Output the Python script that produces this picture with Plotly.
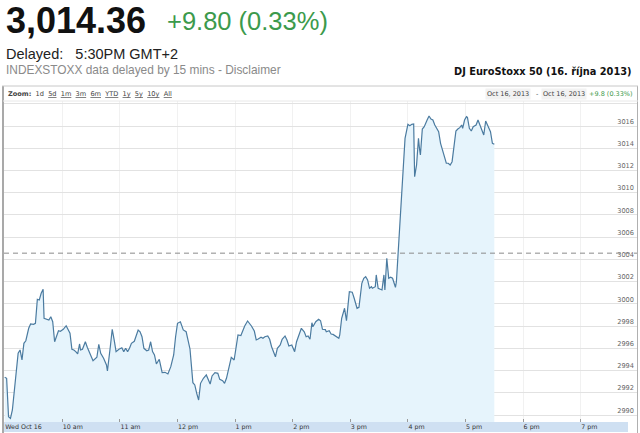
import plotly.graph_objects as go
import pandas as pd

DAY = "2013-10-16 "

times = [
    "09:00", "09:02", "09:04", "09:06", "09:08", "09:11", "09:14", "09:16", "09:18", "09:20",
    "09:22", "09:25", "09:27", "09:30", "09:32", "09:34", "09:36", "09:38", "09:40", "09:41",
    "09:44", "09:46", "09:48", "09:50", "09:52", "09:53", "09:56", "09:58",
    "10:01", "10:04", "10:06", "10:08", "10:10", "10:12", "10:14", "10:16", "10:18", "10:19",
    "10:21", "10:24", "10:26", "10:29", "10:32", "10:36", "10:38", "10:40", "10:43", "10:46",
    "10:47", "10:50", "10:52", "10:54", "10:56", "10:59",
    "11:02", "11:04", "11:06", "11:08", "11:10", "11:12", "11:15", "11:19", "11:21", "11:23",
    "11:25", "11:28", "11:30", "11:32", "11:34", "11:36", "11:38", "11:41", "11:44", "11:47",
    "11:50", "11:53", "11:56", "11:58",
    "12:00", "12:03", "12:06", "12:09", "12:13", "12:16", "12:18", "12:20", "12:22", "12:24",
    "12:27", "12:30", "12:32", "12:34", "12:36", "12:39", "12:42", "12:44", "12:47", "12:49",
    "12:51", "12:54", "12:56", "12:59",
    "13:03", "13:06", "13:10", "13:13", "13:17", "13:20", "13:22", "13:24", "13:27", "13:29",
    "13:31", "13:34", "13:36", "13:38", "13:42", "13:44", "13:47", "13:49", "13:52", "13:54",
    "13:56", "13:59",
    "14:02", "14:04", "14:07", "14:09", "14:12", "14:14", "14:16", "14:18", "14:20", "14:21",
    "14:24", "14:27", "14:29", "14:31", "14:34", "14:35", "14:38", "14:40", "14:42", "14:45",
    "14:48", "14:49", "14:51", "14:54", "14:56", "14:59",
    "15:02", "15:04", "15:07", "15:09", "15:12", "15:14", "15:16", "15:18", "15:20", "15:22",
    "15:23", "15:26", "15:27", "15:29", "15:31", "15:33", "15:35", "15:36", "15:38", "15:40",
    "15:42", "15:44", "15:47", "15:48", "15:57", "15:59",
    "16:00", "16:02", "16:04", "16:06", "16:07", "16:09", "16:11", "16:12", "16:13", "16:15",
    "16:17", "16:20", "16:22", "16:24", "16:26", "16:28", "16:30", "16:32", "16:34", "16:36",
    "16:38", "16:40", "16:42", "16:44", "16:46", "16:47", "16:50", "16:52", "16:54", "16:56",
    "16:57", "16:59",
    "17:01", "17:02", "17:04", "17:06", "17:08", "17:11", "17:13", "17:15", "17:17", "17:19",
    "17:21", "17:24", "17:26", "17:28", "17:30",
]

prices = [
    2993.39, 2993.30, 2989.85, 2989.70, 2990.45, 2992.85, 2995.55, 2995.85, 2994.95, 2996.45,
    2996.68, 2997.80, 2998.19, 2998.16, 2998.25, 3000.41, 3000.35, 3000.95, 3001.31, 2998.70,
    2998.61, 2998.55, 2998.84, 2998.39, 2996.59, 2996.81, 2997.58, 2997.53,
    2997.71, 2998.03, 2997.65, 2997.35, 2995.91, 2995.85, 2995.70, 2995.49, 2996.39, 2995.85,
    2995.91, 2996.59, 2996.09, 2995.40, 2994.89, 2995.19, 2996.36, 2995.55, 2995.10, 2994.50,
    2993.96, 2996.14, 2997.71, 2996.75, 2995.70, 2995.91,
    2996.05, 2995.70, 2996.00, 2995.70, 2996.00, 2996.45, 2996.63, 2997.65, 2997.49, 2997.04,
    2996.00, 2995.78, 2995.85, 2996.59, 2995.70, 2995.40, 2994.59, 2995.01, 2993.81, 2993.84,
    2993.69, 2994.35, 2995.40, 2997.04,
    2998.25, 2998.39, 2997.65, 2997.49, 2995.94, 2992.91, 2992.70, 2991.95, 2991.35, 2992.85,
    2993.30, 2993.60, 2993.15, 2992.79, 2993.51, 2993.81, 2993.75, 2993.21, 2993.09, 2992.85,
    2993.30, 2994.50, 2995.19, 2994.95,
    2997.20, 2997.15, 2998.01, 2998.46, 2998.01, 2997.55, 2996.75, 2996.84, 2996.99, 2996.90,
    2997.04, 2997.11, 2996.81, 2996.14, 2995.24, 2996.00, 2996.30, 2996.81, 2997.11, 2996.75,
    2996.21, 2996.30,
    2995.70, 2996.59, 2997.35, 2997.80, 2997.49, 2997.04, 2997.11, 2996.81, 2998.30, 2997.94,
    2998.39, 2998.61, 2998.48, 2997.71, 2997.68, 2997.49, 2997.58, 2997.29, 2997.25, 2997.11,
    2996.90, 2997.20, 2998.70, 2999.60, 2998.48, 3001.09,
    3001.05, 3000.50, 2999.60, 2999.69, 3001.85, 3002.30, 3002.44, 3002.15, 3001.40, 3001.54,
    3001.40, 3001.54, 3002.60, 3001.40, 3001.31, 3001.25, 3002.60, 3001.25, 3004.10, 3002.30,
    3002.39, 3002.30, 3001.49, 3001.99, 3014.89, 3015.94,
    3016.15, 3016.03, 3016.15, 3016.18, 3011.44, 3012.49, 3014.89, 3013.99, 3013.39, 3015.73,
    3015.94, 3016.54, 3016.90, 3016.63, 3016.54, 3016.09, 3015.79, 3015.49, 3014.44, 3013.84,
    3013.39, 3012.65, 3012.65, 3012.49, 3012.79, 3013.39, 3015.55, 3015.73, 3015.85, 3016.09,
    3015.79, 3016.54,
    3016.84, 3016.78, 3015.79, 3015.55, 3015.94, 3016.09, 3016.54, 3016.09, 3015.64, 3015.19,
    3016.45, 3015.94, 3015.49, 3014.44, 3014.36,
]

prev_close = 3004.56
last_price_text = "3,014.36"
change_text = "+9.80 (0.33%)"
toolbar_change_text = "+9.8 (0.33%)"
date_text = "Oct 16, 2013"
zoom_links = ["5d", "1m", "3m", "6m", "YTD", "1y", "5y", "10y", "All"]
x_tick_times = ["09:00", "10:00", "11:00", "12:00", "13:00", "14:00", "15:00",
                "16:00", "17:00", "18:00", "19:00"]
x_tick_labels = ["Wed Oct 16", "10 am", "11 am", "12 pm", "1 pm", "2 pm", "3 pm",
                 "4 pm", "5 pm", "6 pm", "7 pm"]
y_ticks = [2990, 2992, 2994, 2996, 2998, 3000, 3002, 3004, 3006, 3008,
           3010, 3012, 3014, 3016, 3018]

x_vals = pd.to_datetime([DAY + t for t in times])
x_ticks = pd.to_datetime([DAY + t for t in x_tick_times])

W, H = 640, 433
ML, MR, MT, MB = 4, 3, 101, 11
PW = W - ML - MR
PH = H - MT - MB


def px(xpix):
    return (xpix - ML) / PW


def py(ypix):
    return (H - MB - ypix) / PH


fig = go.Figure()
fig.add_trace(go.Scatter(
    x=x_vals, y=prices, mode="lines",
    line=dict(color="#4b7ba0", width=1.2),
    fill="tozeroy", fillcolor="#e6f4fc",
    hoverinfo="skip", showlegend=False,
))

shapes = [
    # x-axis band
    dict(type="rect", xref="paper", yref="paper", x0=0, x1=px(628), y0=py(432), y1=0,
         fillcolor="#cfe0f2", line=dict(width=0), layer="below"),
    # previous close dashed line
    dict(type="line", xref="paper", yref="y", x0=0, x1=1, y0=prev_close, y1=prev_close,
         line=dict(color="#8a8a8a", width=1, dash="5px,4px")),
    # frame borders
    dict(type="line", xref="paper", yref="paper", x0=px(3), x1=px(3), y0=py(86), y1=py(433),
         line=dict(color="#8c8c8c", width=1.5)),
    dict(type="line", xref="paper", yref="paper", x0=px(637.5), x1=px(637.5), y0=py(86), y1=py(433),
         line=dict(color="#b0b0b0", width=1)),
    dict(type="line", xref="paper", yref="paper", x0=px(2), x1=px(638), y0=py(86), y1=py(86),
         line=dict(color="#c8c8c8", width=1)),
    dict(type="line", xref="paper", yref="paper", x0=px(3), x1=px(638), y0=py(101), y1=py(101),
         line=dict(color="#e8e8e8", width=1)),
]

gap = " \u00a0"
zoom_text = "<b>Zoom:</b>" + gap + "1d" + gap + gap.join("<u>" + z + "</u>" for z in zoom_links)

annotations = [
    dict(text="<b>" + last_price_text + "</b>", x=px(4), y=py(21), xanchor="left", yanchor="middle",
         font=dict(family="Liberation Sans, Arial", size=36, color="#111111")),
    dict(text=change_text, x=px(165), y=py(21), xanchor="left", yanchor="middle",
         font=dict(family="Liberation Sans, Arial", size=25.5, color="#3c9a4c")),
    dict(text="Delayed:\u00a0\u00a0 5:30PM GMT+2", x=px(4), y=py(54), xanchor="left", yanchor="middle",
         font=dict(family="Liberation Sans, Arial", size=14.5, color="#222222")),
    dict(text="INDEXSTOXX data delayed by 15 mins - Disclaimer", x=px(4), y=py(70),
         xanchor="left", yanchor="middle",
         font=dict(family="Liberation Sans, Arial", size=11.9, color="#8a8a8a")),
    dict(text="<b>DJ EuroStoxx 50 (16. října 2013)</b>", x=px(634), y=py(71),
         xanchor="right", yanchor="middle",
         font=dict(family="DejaVu Sans", size=9.8, color="#111111")),
    dict(text=zoom_text,
         x=px(6), y=py(94), xanchor="left", yanchor="middle",
         font=dict(family="DejaVu Sans", size=6.6, color="#444444")),
    dict(text=date_text, x=px(531), y=py(94), xanchor="right", yanchor="middle",
         bgcolor="#f2f2f2", borderpad=1,
         font=dict(family="DejaVu Sans", size=6.5, color="#444444")),
    dict(text="-", x=px(537), y=py(94), xanchor="center", yanchor="middle",
         font=dict(family="DejaVu Sans", size=6.5, color="#444444")),
    dict(text=date_text, x=px(587), y=py(94), xanchor="right", yanchor="middle",
         bgcolor="#f2f2f2", borderpad=1,
         font=dict(family="DejaVu Sans", size=6.5, color="#444444")),
    dict(text=toolbar_change_text, x=px(635), y=py(94), xanchor="right", yanchor="middle",
         font=dict(family="DejaVu Sans", size=6.5, color="#3c9a4c")),
]
for a in annotations:
    a.setdefault("xref", "paper")
    a.setdefault("yref", "paper")
    a["showarrow"] = False

fig.update_layout(
    width=W, height=H,
    margin=dict(l=ML, r=MR, t=MT, b=MB, pad=0),
    paper_bgcolor="white", plot_bgcolor="white",
    shapes=shapes, annotations=annotations,
    showlegend=False,
    xaxis=dict(
        type="date",
        range=[DAY + "08:59:16", DAY + "19:58:37"],
        tickvals=x_ticks, ticktext=x_tick_labels,
        ticklabelposition="outside right",
        ticks="inside", ticklen=3, tickcolor="#9a9a9a", tickwidth=1,
        showgrid=True, gridcolor="#f1f1f1", gridwidth=1,
        zeroline=False, showline=False,
        tickfont=dict(family="DejaVu Sans", size=6.3, color="#333333"),
        fixedrange=True,
    ),
    yaxis=dict(
        side="right",
        range=[2989.37, 3018.25],
        tickvals=y_ticks,
        ticklabelposition="inside top",
        ticks="",
        showgrid=True, gridcolor="#e2e2e2", gridwidth=1,
        zeroline=False, showline=False,
        tickfont=dict(family="DejaVu Sans", size=6.6, color="#666666"),
        fixedrange=True,
    ),
)

fig.write_html(
    "out.html",
    config={"displayModeBar": False},
    post_script="document.body.style.margin='0';document.body.style.overflow='hidden';",
)
